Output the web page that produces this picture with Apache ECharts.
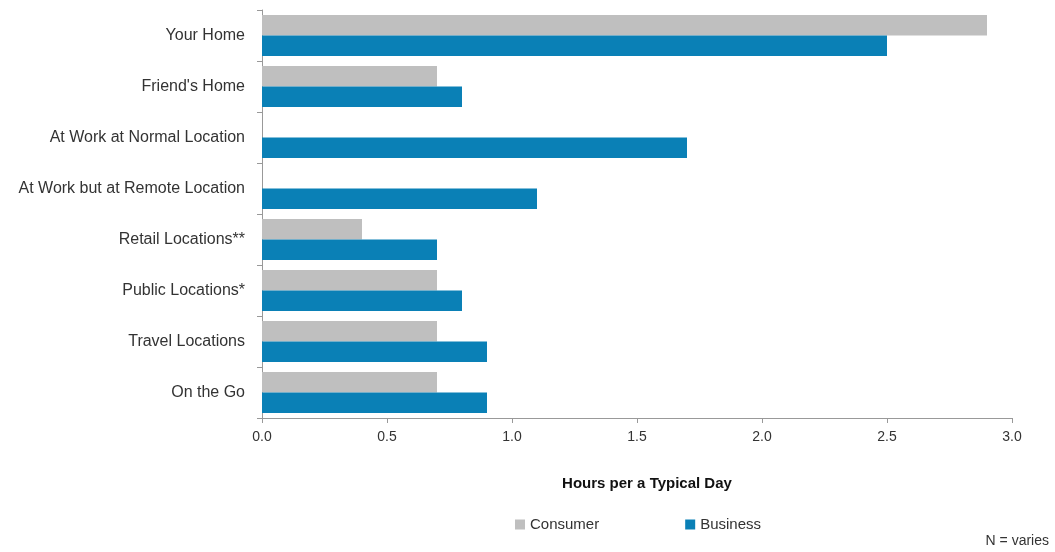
<!DOCTYPE html>
<html>
<head>
<meta charset="utf-8">
<script src="https://cdn.jsdelivr.net/npm/echarts@6/dist/echarts.min.js"></script>
<style>
  html, body { margin: 0; padding: 0; background: #fff; }
  #chart { width: 1055px; height: 552px; }
</style>
</head>
<body>
<div id="chart"></div>
<script>
// categories listed bottom -> top (echarts category y axis starts at bottom)
var categories = ['On the Go', 'Travel Locations', 'Public Locations*', 'Retail Locations**',
  'At Work but at Remote Location', 'At Work at Normal Location', "Friend's Home", 'Your Home'];
var consumer = [0.7, 0.7, 0.7, 0.4, null, null, 0.7, 2.9];
var business = [0.9, 0.9, 0.8, 0.7, 1.1, 1.7, 0.8, 2.5];

var font = 'Liberation Sans, Arial, sans-serif';
var myChart = echarts.init(document.getElementById('chart'));

var option = {
  animation: false,
  textStyle: { fontFamily: font },
  grid: { left: 262, right: 43, top: 10, bottom: 134, containLabel: false },
  legend: {
    bottom: 15,
    left: 510,
    itemWidth: 10,
    itemHeight: 10,
    itemGap: 86,
    icon: 'rect',
    textStyle: { fontSize: 15, color: '#333', fontFamily: font },
    data: ['Consumer', 'Business']
  },
  xAxis: {
    type: 'value',
    min: 0,
    max: 3,
    interval: 0.5,
    name: 'Hours per a Typical Day',
    nameLocation: 'middle',
    nameGap: 58,
    nameTextStyle: { fontSize: 15, fontWeight: 'bold', color: '#111', fontFamily: font, padding: [0, 0, 0, 20] },
    axisLine: { show: true, lineStyle: { color: '#999' } },
    axisTick: { show: true, length: 5, lineStyle: { color: '#999' } },
    splitLine: { show: false },
    axisLabel: {
      fontSize: 14, color: '#333', margin: 12,
      formatter: function (v) { return v.toFixed(1); }
    }
  },
  yAxis: {
    type: 'category',
    data: categories,
    axisLine: { show: true, lineStyle: { color: '#999' } },
    axisTick: { show: true, length: 5, lineStyle: { color: '#999' } },
    axisLabel: { fontSize: 16, color: '#333', margin: 17 }
  },
  series: [
    {
      name: 'Consumer',
      type: 'bar',
      data: consumer,
      barGap: 0,
      barCategoryGap: '20%',
      itemStyle: { color: '#bfbfbf' }
    },
    {
      name: 'Business',
      type: 'bar',
      data: business,
      itemStyle: { color: '#0a80b6' }
    }
  ],
  graphic: [{
    type: 'text',
    right: 6,
    bottom: 4,
    style: { text: 'N = varies', fontSize: 14, fill: '#333', fontFamily: font }
  }]
};

myChart.setOption(option);
</script>
</body>
</html>
